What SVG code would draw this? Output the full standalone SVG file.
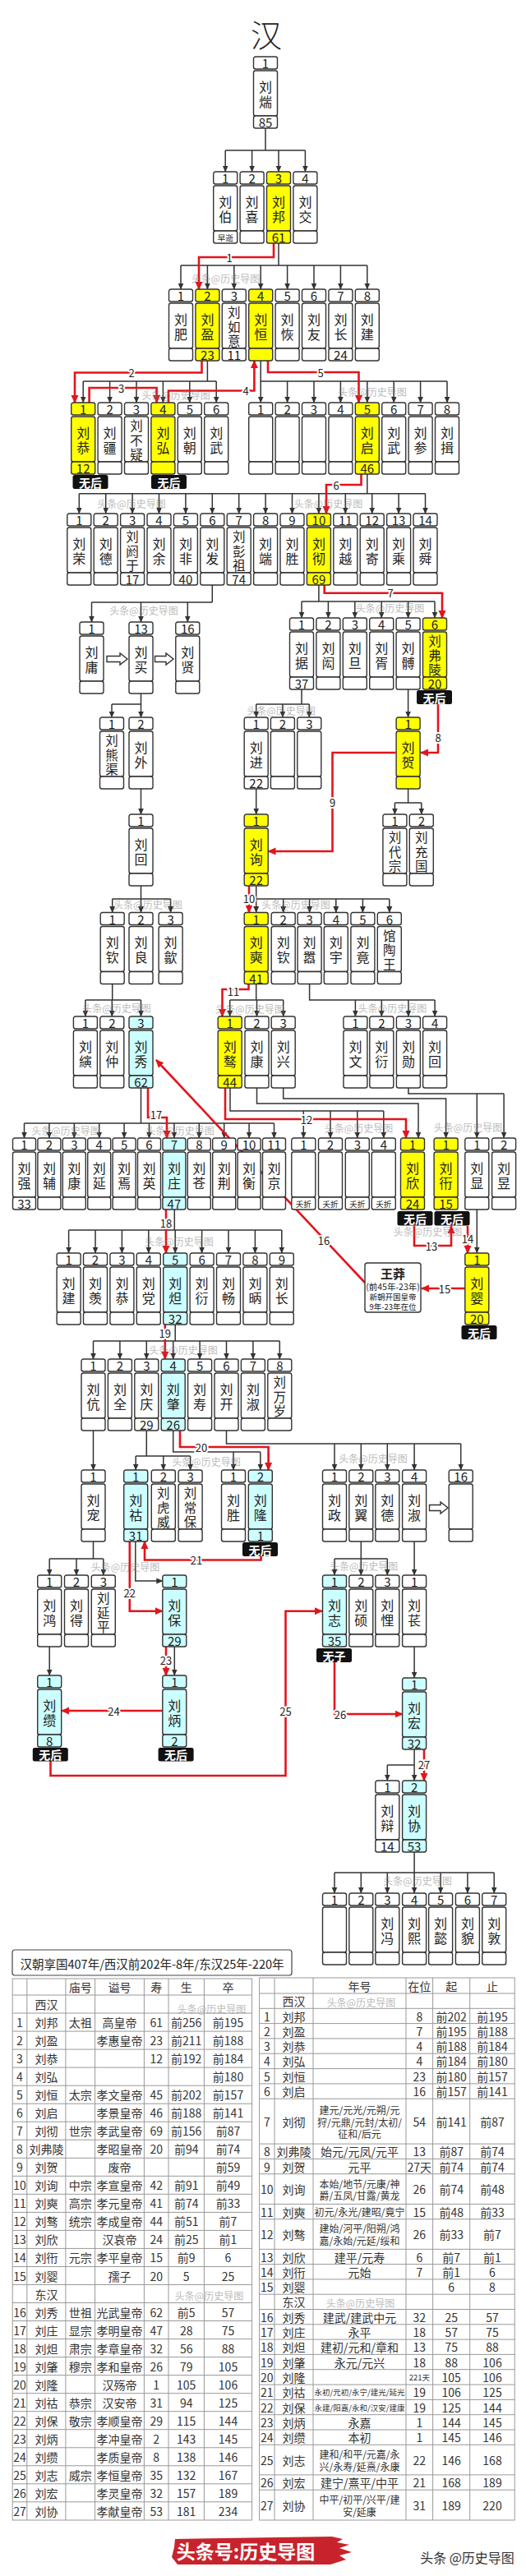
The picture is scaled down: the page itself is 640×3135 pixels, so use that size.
<svg xmlns="http://www.w3.org/2000/svg" width="640" height="3135" viewBox="0 0 640 3135">
<defs>
<marker id="ak" viewBox="0 0 8 8" refX="7.5" refY="4" markerWidth="8" markerHeight="8" markerUnits="userSpaceOnUse" orient="auto"><path d="M0,0.5L8,4L0,7.5z" fill="#333"/></marker>
<marker id="ar" viewBox="0 0 10 10" refX="9" refY="5" markerWidth="10" markerHeight="10" markerUnits="userSpaceOnUse" orient="auto"><path d="M0,0.5L10,5L0,9.5z" fill="#e3141c"/></marker>
<g id="bx"><rect x="-14.5" y="0" width="29" height="15" rx="2.5" stroke="#333" stroke-width="1.4"/><rect x="-14.5" y="17" width="29" height="55" rx="2.5" stroke="#333" stroke-width="1.4"/><rect x="-14.5" y="72" width="29" height="15" rx="2.5" stroke="#333" stroke-width="1.4"/></g>
<g id="bn"><rect x="-14" y="0" width="28" height="15" rx="2.5" stroke="#333" stroke-width="1.4"/><rect x="-14" y="17" width="28" height="55" rx="2.5" stroke="#333" stroke-width="1.4"/><rect x="-14" y="72" width="28" height="15" rx="2.5" stroke="#333" stroke-width="1.4"/></g>
</defs>
<style>
text{font-family:"Noto Sans CJK SC","Noto Sans",sans-serif;fill:#222}
.t{font-size:15px;text-anchor:middle;dominant-baseline:central}
.m{font-size:16px;text-anchor:middle;dominant-baseline:central}
.m3{font-size:15.5px;text-anchor:middle;dominant-baseline:central}
.s{font-size:9.5px;text-anchor:middle;dominant-baseline:central}
.w{fill:#fff}.y{fill:#ffff00}.c{fill:#ccffff}
.k{fill:none;stroke:#333;stroke-width:1.5}
.ka{fill:none;stroke:#333;stroke-width:1.5;marker-end:url(#ak)}
.r{fill:none;stroke:#e3141c;stroke-width:2.6;marker-end:url(#ar)}
.lb{font-size:13px;text-anchor:middle;dominant-baseline:central;stroke:#fff;stroke-width:4px;paint-order:stroke;stroke-linejoin:round}
.nh rect{fill:#111}
.nh text{fill:#fff;font-size:14px;font-weight:bold;text-anchor:middle;dominant-baseline:central}
.wm{font-size:12px;fill:#777;opacity:.5;text-anchor:middle;dominant-baseline:central}
.tb{font-size:14px;fill:#333;text-anchor:middle;dominant-baseline:central}
.tn{font-size:12px;fill:#333;text-anchor:middle;dominant-baseline:central}
.tt{font-size:9.5px;fill:#333;text-anchor:middle;dominant-baseline:central}
.tl{stroke:#999;stroke-width:1;fill:none}
</style>
<rect width="640" height="3135" fill="#fff"/>
<text x="324" y="40" style="font-size:38px;font-weight:300;text-anchor:middle;dominant-baseline:central;fill:#222">汉</text>

<g id="connectors">
<path class="k" d="M323,156V183M274.2,183H371.4"/>
<path class="ka" d="M274.2,183V209"/><path class="ka" d="M306.6,183V209"/><path class="ka" d="M339,183V209"/><path class="ka" d="M371.4,183V209"/>
<path class="k" d="M339,296V323M220,323H446.8"/>
<path class="ka" d="M220,323V352"/><path class="ka" d="M252.4,323V352"/><path class="ka" d="M284.8,323V352"/><path class="ka" d="M317.2,323V352"/><path class="ka" d="M349.6,323V352"/><path class="ka" d="M382,323V352"/><path class="ka" d="M414.4,323V352"/><path class="ka" d="M446.8,323V352"/>
<path class="k" d="M252.4,439V464M101.2,464H263.2"/>
<path class="ka" d="M101.2,464V490"/><path class="ka" d="M133.6,464V490"/><path class="ka" d="M166,464V490"/><path class="ka" d="M198.4,464V490"/><path class="ka" d="M230.8,464V490"/><path class="ka" d="M263.2,464V490"/>
<path class="k" d="M317.2,439V464H544"/>
<path class="ka" d="M317.2,464V490"/><path class="ka" d="M349.6,464V490"/><path class="ka" d="M382,464V490"/><path class="ka" d="M414.4,464V490"/><path class="ka" d="M446.8,464V490"/><path class="ka" d="M479.2,464V490"/><path class="ka" d="M511.6,464V490"/><path class="ka" d="M544,464V490"/>
<path class="k" d="M446.8,577V600.7M96.3,600.7H517.5"/>
<path class="ka" d="M96.3,600.7V625"/><path class="ka" d="M128.7,600.7V625"/><path class="ka" d="M161.1,600.7V625"/><path class="ka" d="M193.5,600.7V625"/><path class="ka" d="M225.9,600.7V625"/><path class="ka" d="M258.3,600.7V625"/><path class="ka" d="M290.7,600.7V625"/><path class="ka" d="M323.1,600.7V625"/><path class="ka" d="M355.5,600.7V625"/><path class="ka" d="M387.9,600.7V625"/><path class="ka" d="M420.3,600.7V625"/><path class="ka" d="M452.7,600.7V625"/><path class="ka" d="M485.1,600.7V625"/><path class="ka" d="M517.5,600.7V625"/>
<path class="k" d="M258.3,712V733M111.5,733H258.3"/>
<path class="ka" d="M111.5,733V757"/><path class="ka" d="M171.5,733V757"/><path class="ka" d="M228.3,733V757"/>
<path class="k" d="M387.9,712V732M367,732H529"/>
<path class="ka" d="M367,732V752"/><path class="ka" d="M399.4,732V752"/><path class="ka" d="M431.8,732V752"/><path class="ka" d="M464.2,732V752"/><path class="ka" d="M496.6,732V752"/><path class="ka" d="M529,732V752"/>
<path class="k" d="M171.5,844V857M136,857H171.5"/>
<path class="ka" d="M136,857V873"/><path class="ka" d="M171.5,857V873"/>
<path class="ka" d="M171.5,960V991"/>
<path class="k" d="M367,839V857M311.7,857H376.3"/>
<path class="ka" d="M311.7,857V873"/><path class="ka" d="M343.9,857V873"/><path class="ka" d="M376.3,857V873"/>
<path class="ka" d="M311.7,960V991"/>
<path class="ka" d="M496.6,839V873"/>
<path class="k" d="M496.6,960V977M480.4,977H512.8"/>
<path class="ka" d="M480.4,977V991"/><path class="ka" d="M512.8,977V991"/>
<path class="k" d="M171.5,1078V1094M136.7,1094H207.6"/>
<path class="ka" d="M136.7,1094V1110.5"/><path class="ka" d="M171.5,1094V1110.5"/><path class="ka" d="M207.6,1094V1110.5"/>
<path class="k" d="M311.7,1078V1094H473.8"/>
<path class="ka" d="M311.7,1094V1110.5"/><path class="ka" d="M344.7,1094V1110.5"/><path class="ka" d="M376.6,1094V1110.5"/><path class="ka" d="M408.8,1094V1110.5"/><path class="ka" d="M441.4,1094V1110.5"/><path class="ka" d="M473.8,1094V1110.5"/>
<path class="k" d="M136.7,1197.5V1217M103.9,1217H171.5"/>
<path class="ka" d="M103.9,1217V1237"/><path class="ka" d="M136.3,1217V1237"/><path class="ka" d="M171.5,1217V1237"/>
<path class="k" d="M311.7,1197.5V1217M279.7,1217H344.7"/>
<path class="ka" d="M279.7,1217V1237"/><path class="ka" d="M312.5,1217V1237"/><path class="ka" d="M344.7,1217V1237"/>
<path class="k" d="M376.6,1197.5V1217H529.1"/>
<path class="ka" d="M432.4,1217V1237"/><path class="ka" d="M464.3,1217V1237"/><path class="ka" d="M496.9,1217V1237"/><path class="ka" d="M529.1,1217V1237"/>
<path class="k" d="M171.5,1324V1367M29.5,1367H333.5"/>
<path class="ka" d="M29.5,1367V1385"/><path class="ka" d="M59.9,1367V1385"/><path class="ka" d="M90.3,1367V1385"/><path class="ka" d="M120.7,1367V1385"/><path class="ka" d="M151.1,1367V1385"/><path class="ka" d="M181.5,1367V1385"/><path class="ka" d="M211.9,1367V1385"/><path class="ka" d="M242.3,1367V1385"/><path class="ka" d="M272.7,1367V1385"/><path class="ka" d="M303.1,1367V1385"/><path class="ka" d="M333.5,1367V1385"/>
<path class="k" d="M280,1324V1352H466.8"/>
<path class="ka" d="M369.3,1352V1385"/><path class="ka" d="M402,1352V1385"/><path class="ka" d="M434.8,1352V1385"/><path class="ka" d="M466.8,1352V1385"/>
<path class="ka" d="M312.5,1324V1343H509V1385"/>
<path class="ka" d="M344.7,1324V1337H542.6V1385"/>
<path class="k" d="M496.9,1324V1331H613.1"/>
<path class="ka" d="M580.3,1331V1385"/><path class="ka" d="M613.1,1331V1385"/>
<path class="k" d="M212.3,1472V1497M83.6,1497H342.8"/>
<path class="ka" d="M83.6,1497V1525"/><path class="ka" d="M116,1497V1525"/><path class="ka" d="M148.4,1497V1525"/><path class="ka" d="M180.8,1497V1525"/><path class="ka" d="M213.2,1497V1525"/><path class="ka" d="M245.6,1497V1525"/><path class="ka" d="M278,1497V1525"/><path class="ka" d="M310.4,1497V1525"/><path class="ka" d="M342.8,1497V1525"/>
<path class="ka" d="M580.3,1472V1525"/>
<path class="k" d="M213.2,1612V1632M113.5,1632H340.3"/>
<path class="ka" d="M113.5,1632V1654"/><path class="ka" d="M145.9,1632V1654"/><path class="ka" d="M178.3,1632V1654"/><path class="ka" d="M210.7,1632V1654"/><path class="ka" d="M243.1,1632V1654"/><path class="ka" d="M275.5,1632V1654"/><path class="ka" d="M307.9,1632V1654"/><path class="ka" d="M340.3,1632V1654"/>
<path class="ka" d="M113.5,1741V1789"/>
<path class="k" d="M178.3,1741V1772M165.2,1772H231.6"/>
<path class="ka" d="M165.2,1772V1789"/><path class="ka" d="M198.8,1772V1789"/><path class="ka" d="M231.6,1772V1789"/>
<path class="k" d="M210.7,1741V1767H316.8"/>
<path class="ka" d="M284,1767V1789"/><path class="ka" d="M316.8,1767V1789"/>
<path class="k" d="M275.5,1741V1757H560.7"/>
<path class="ka" d="M407,1757V1789"/><path class="ka" d="M439.3,1757V1789"/><path class="ka" d="M471.3,1757V1789"/><path class="ka" d="M504.1,1757V1789"/><path class="ka" d="M560.7,1757V1789"/>
<path class="ka" d="M164.8,1876V1924H197.8"/>
<path class="k" d="M113.5,1876V1897M60.2,1897H125.8"/>
<path class="ka" d="M60.2,1897V1917"/><path class="ka" d="M93,1897V1917"/><path class="ka" d="M125.8,1897V1917"/>
<path class="ka" d="M60.2,2004V2039"/>
<path class="ka" d="M212.3,2004V2039"/>
<path class="k" d="M439.3,1876V1897M407,1897H471.3"/>
<path class="ka" d="M407,1897V1917"/><path class="ka" d="M439.3,1897V1917"/><path class="ka" d="M471.3,1897V1917"/>
<path class="ka" d="M504.1,1876V1917"/>
<path class="ka" d="M504.1,2004V2042"/>
<path class="k" d="M504.1,2129V2148M471.3,2148H504.1"/>
<path class="ka" d="M471.3,2148V2167"/><path class="ka" d="M504.1,2148V2167"/>
<path class="k" d="M504.1,2254V2279M407,2279H601.2"/>
<path class="ka" d="M407,2279V2304"/><path class="ka" d="M439.3,2279V2304"/><path class="ka" d="M471.3,2279V2304"/><path class="ka" d="M504.1,2279V2304"/><path class="ka" d="M536.1,2279V2304"/><path class="ka" d="M568.9,2279V2304"/><path class="ka" d="M601.2,2279V2304"/>
<path d="M130,798.5H146V795L155,802L146,809V805.5H130Z" fill="#fff" stroke="#333" stroke-width="1.4"/>
<path d="M188.5,798.5H202V795L211,802L202,809V805.5H188.5Z" fill="#fff" stroke="#333" stroke-width="1.4"/>
<path d="M522.5,1831.5H536V1828L545,1835L536,1842V1838.5H522.5Z" fill="#fff" stroke="#333" stroke-width="1.4"/>
<g id="red">
<path class="r" d="M333,296V313H242V352"/>
<path class="r" d="M245.5,439V453.5H91V490"/>
<path class="r" d="M108.6,490V472H190.6V490"/>
<path class="r" d="M205,490V475.5H309.4V439"/>
<path class="r" d="M326,439V453H436.5V490"/>
<path class="r" d="M439.5,577V590H397V625"/>
<path class="r" d="M394.7,712V721.7H538V752"/>
<path class="r" d="M533,857V916H512"/>
<path class="r" d="M481.5,916H404.5V1036H326.5"/>
<path class="r" d="M303,1078V1110.5"/>
<path class="r" d="M302.5,1197.5V1204H270.5V1237"/>
<path class="r" d="M274,1324V1362H494V1385"/>
<path class="r" d="M504,1492V1516H549V1492"/>
<path class="r" d="M569,1492V1525"/>
<path class="r" d="M565.5,1568H513"/>
<path class="r" d="M444,1561L190,1290"/>
<path class="r" d="M180,1324V1360H203V1385"/>
<path class="r" d="M202,1472V1525"/>
<path class="r" d="M200.8,1612V1654"/>
<path class="r" d="M219,1741V1761H326.6V1789"/>
<path class="r" d="M317.6,1894V1898.5H176V1876"/>
<path class="r" d="M157.8,1876V1960.7H197.8"/>
<path class="r" d="M202,2004V2039"/>
<path class="r" d="M197.8,2082H75.2"/>
<path class="r" d="M61.5,2143V2161H347.5V1960.7H392"/>
<path class="r" d="M407,2023V2086H489.6"/>
<path class="r" d="M516,2129V2167"/>
</g>
<g id="red-labels">
<text class="lb" x="279" y="313">1</text>
<text class="lb" x="160" y="453.5">2</text>
<text class="lb" x="147.5" y="472">3</text>
<text class="lb" x="299" y="475.5">4</text>
<text class="lb" x="390" y="453">5</text>
<text class="lb" x="409" y="590">6</text>
<text class="lb" x="475" y="721.7">7</text>
<text class="lb" x="533" y="897">8</text>
<text class="lb" x="404.5" y="976">9</text>
<text class="lb" x="303" y="1093">10</text>
<text class="lb" x="284" y="1206">11</text>
<text class="lb" x="373" y="1362">12</text>
<text class="lb" x="525" y="1516">13</text>
<text class="lb" x="569" y="1507">14</text>
<text class="lb" x="541" y="1568">15</text>
<text class="lb" x="394" y="1509">16</text>
<text class="lb" x="190" y="1356">17</text>
<text class="lb" x="202" y="1488">18</text>
<text class="lb" x="200.8" y="1622">19</text>
<text class="lb" x="245" y="1761">20</text>
<text class="lb" x="239" y="1898.5">21</text>
<text class="lb" x="157.8" y="1938">22</text>
<text class="lb" x="202" y="2020">23</text>
<text class="lb" x="138.5" y="2082">24</text>
<text class="lb" x="347.5" y="2082">25</text>
<text class="lb" x="414" y="2086">26</text>
<text class="lb" x="516" y="2147">27</text>
</g>
</g>

<g id="nodes">
<g id="r1-1" transform="translate(323,69)"><use href="#bx" class="w"/><text class="t" y="7.5">1</text><text class="m" y="35.5">刘<tspan x="0" dy="18">煓</tspan></text><text class="t" y="79.5">85</text></g>
<g id="r2-1" transform="translate(274.2,209)"><use href="#bx" class="w"/><text class="t" y="7.5">1</text><text class="m" y="35.5">刘<tspan x="0" dy="18">伯</tspan></text><text class="s" y="79.5">早逝</text></g>
<g id="r2-2" transform="translate(306.6,209)"><use href="#bx" class="w"/><text class="t" y="7.5">2</text><text class="m" y="35.5">刘<tspan x="0" dy="18">喜</tspan></text></g>
<g id="r2-3" transform="translate(339,209)"><use href="#bx" class="y"/><text class="t" y="7.5">3</text><text class="m" y="35.5">刘<tspan x="0" dy="18">邦</tspan></text><text class="t" y="79.5">61</text></g>
<g id="r2-4" transform="translate(371.4,209)"><use href="#bx" class="w"/><text class="t" y="7.5">4</text><text class="m" y="35.5">刘<tspan x="0" dy="18">交</tspan></text></g>

<g id="r3-1" transform="translate(220,352)"><use href="#bx" class="w"/><text class="t" y="7.5">1</text><text class="m" y="35.5">刘<tspan x="0" dy="18">肥</tspan></text></g>
<g id="r3-2" transform="translate(252.4,352)"><use href="#bx" class="y"/><text class="t" y="7.5">2</text><text class="m" y="35.5">刘<tspan x="0" dy="18">盈</tspan></text><text class="t" y="79.5">23</text></g>
<g id="r3-3" transform="translate(284.8,352)"><use href="#bx" class="w"/><text class="t" y="7.5">3</text><text class="m3" y="27">刘<tspan x="0" dy="17.5">如</tspan><tspan x="0" dy="17.5">意</tspan></text><text class="t" y="79.5">11</text></g>
<g id="r3-4" transform="translate(317.2,352)"><use href="#bx" class="y"/><text class="t" y="7.5">4</text><text class="m" y="35.5">刘<tspan x="0" dy="18">恒</tspan></text></g>
<g id="r3-5" transform="translate(349.6,352)"><use href="#bx" class="w"/><text class="t" y="7.5">5</text><text class="m" y="35.5">刘<tspan x="0" dy="18">恢</tspan></text></g>
<g id="r3-6" transform="translate(382,352)"><use href="#bx" class="w"/><text class="t" y="7.5">6</text><text class="m" y="35.5">刘<tspan x="0" dy="18">友</tspan></text></g>
<g id="r3-7" transform="translate(414.4,352)"><use href="#bx" class="w"/><text class="t" y="7.5">7</text><text class="m" y="35.5">刘<tspan x="0" dy="18">长</tspan></text><text class="t" y="79.5">24</text></g>
<g id="r3-8" transform="translate(446.8,352)"><use href="#bx" class="w"/><text class="t" y="7.5">8</text><text class="m" y="35.5">刘<tspan x="0" dy="18">建</tspan></text></g>

<g id="r4a-1" transform="translate(101.2,490)"><use href="#bx" class="y"/><text class="t" y="7.5">1</text><text class="m" y="35.5">刘<tspan x="0" dy="18">恭</tspan></text><text class="t" y="79.5">12</text></g>
<g id="r4a-2" transform="translate(133.6,490)"><use href="#bx" class="w"/><text class="t" y="7.5">2</text><text class="m" y="35.5">刘<tspan x="0" dy="18">疆</tspan></text></g>
<g id="r4a-3" transform="translate(166,490)"><use href="#bx" class="w"/><text class="t" y="7.5">3</text><text class="m3" y="27">刘<tspan x="0" dy="17.5">不</tspan><tspan x="0" dy="17.5">疑</tspan></text></g>
<g id="r4a-4" transform="translate(198.4,490)"><use href="#bx" class="y"/><text class="t" y="7.5">4</text><text class="m" y="35.5">刘<tspan x="0" dy="18">弘</tspan></text></g>
<g id="r4a-5" transform="translate(230.8,490)"><use href="#bx" class="w"/><text class="t" y="7.5">5</text><text class="m" y="35.5">刘<tspan x="0" dy="18">朝</tspan></text></g>
<g id="r4a-6" transform="translate(263.2,490)"><use href="#bx" class="w"/><text class="t" y="7.5">6</text><text class="m" y="35.5">刘<tspan x="0" dy="18">武</tspan></text></g>
<g id="r4b-1" transform="translate(317.2,490)"><use href="#bx" class="w"/><text class="t" y="7.5">1</text></g>
<g id="r4b-2" transform="translate(349.6,490)"><use href="#bx" class="w"/><text class="t" y="7.5">2</text></g>
<g id="r4b-3" transform="translate(382,490)"><use href="#bx" class="w"/><text class="t" y="7.5">3</text></g>
<g id="r4b-4" transform="translate(414.4,490)"><use href="#bx" class="w"/><text class="t" y="7.5">4</text></g>
<g id="r4b-5" transform="translate(446.8,490)"><use href="#bx" class="y"/><text class="t" y="7.5">5</text><text class="m" y="35.5">刘<tspan x="0" dy="18">启</tspan></text><text class="t" y="79.5">46</text></g>
<g id="r4b-6" transform="translate(479.2,490)"><use href="#bx" class="w"/><text class="t" y="7.5">6</text><text class="m" y="35.5">刘<tspan x="0" dy="18">武</tspan></text></g>
<g id="r4b-7" transform="translate(511.6,490)"><use href="#bx" class="w"/><text class="t" y="7.5">7</text><text class="m" y="35.5">刘<tspan x="0" dy="18">参</tspan></text></g>
<g id="r4b-8" transform="translate(544,490)"><use href="#bx" class="w"/><text class="t" y="7.5">8</text><text class="m" y="35.5">刘<tspan x="0" dy="18">揖</tspan></text></g>

<g id="r5-1" transform="translate(96.3,625)"><use href="#bx" class="w"/><text class="t" y="7.5">1</text><text class="m" y="35.5">刘<tspan x="0" dy="18">荣</tspan></text></g>
<g id="r5-2" transform="translate(128.7,625)"><use href="#bx" class="w"/><text class="t" y="7.5">2</text><text class="m" y="35.5">刘<tspan x="0" dy="18">德</tspan></text></g>
<g id="r5-3" transform="translate(161.1,625)"><use href="#bx" class="w"/><text class="t" y="7.5">3</text><text class="m3" y="27">刘<tspan x="0" dy="17.5">阏</tspan><tspan x="0" dy="17.5">于</tspan></text><text class="t" y="79.5">17</text></g>
<g id="r5-4" transform="translate(193.5,625)"><use href="#bx" class="w"/><text class="t" y="7.5">4</text><text class="m" y="35.5">刘<tspan x="0" dy="18">余</tspan></text></g>
<g id="r5-5" transform="translate(225.9,625)"><use href="#bx" class="w"/><text class="t" y="7.5">5</text><text class="m" y="35.5">刘<tspan x="0" dy="18">非</tspan></text><text class="t" y="79.5">40</text></g>
<g id="r5-6" transform="translate(258.3,625)"><use href="#bx" class="w"/><text class="t" y="7.5">6</text><text class="m" y="35.5">刘<tspan x="0" dy="18">发</tspan></text></g>
<g id="r5-7" transform="translate(290.7,625)"><use href="#bx" class="w"/><text class="t" y="7.5">7</text><text class="m3" y="27">刘<tspan x="0" dy="17.5">彭</tspan><tspan x="0" dy="17.5">祖</tspan></text><text class="t" y="79.5">74</text></g>
<g id="r5-8" transform="translate(323.1,625)"><use href="#bx" class="w"/><text class="t" y="7.5">8</text><text class="m" y="35.5">刘<tspan x="0" dy="18">端</tspan></text></g>
<g id="r5-9" transform="translate(355.5,625)"><use href="#bx" class="w"/><text class="t" y="7.5">9</text><text class="m" y="35.5">刘<tspan x="0" dy="18">胜</tspan></text></g>
<g id="r5-10" transform="translate(387.9,625)"><use href="#bx" class="y"/><text class="t" y="7.5">10</text><text class="m" y="35.5">刘<tspan x="0" dy="18">彻</tspan></text><text class="t" y="79.5">69</text></g>
<g id="r5-11" transform="translate(420.3,625)"><use href="#bx" class="w"/><text class="t" y="7.5">11</text><text class="m" y="35.5">刘<tspan x="0" dy="18">越</tspan></text></g>
<g id="r5-12" transform="translate(452.7,625)"><use href="#bx" class="w"/><text class="t" y="7.5">12</text><text class="m" y="35.5">刘<tspan x="0" dy="18">寄</tspan></text></g>
<g id="r5-13" transform="translate(485.1,625)"><use href="#bx" class="w"/><text class="t" y="7.5">13</text><text class="m" y="35.5">刘<tspan x="0" dy="18">乘</tspan></text></g>
<g id="r5-14" transform="translate(517.5,625)"><use href="#bx" class="w"/><text class="t" y="7.5">14</text><text class="m" y="35.5">刘<tspan x="0" dy="18">舜</tspan></text></g>

<g id="r6a-1" transform="translate(111.5,757)"><use href="#bx" class="w"/><text class="t" y="7.5">1</text><text class="m" y="35.5">刘<tspan x="0" dy="18">庸</tspan></text></g>
<g id="r6a-13" transform="translate(171.5,757)"><use href="#bx" class="w"/><text class="t" y="7.5">13</text><text class="m" y="35.5">刘<tspan x="0" dy="18">买</tspan></text></g>
<g id="r6a-16" transform="translate(228.3,757)"><use href="#bx" class="w"/><text class="t" y="7.5">16</text><text class="m" y="35.5">刘<tspan x="0" dy="18">贤</tspan></text></g>
<g id="r6b-1" transform="translate(367,752)"><use href="#bx" class="w"/><text class="t" y="7.5">1</text><text class="m" y="35.5">刘<tspan x="0" dy="18">据</tspan></text><text class="t" y="79.5">37</text></g>
<g id="r6b-2" transform="translate(399.4,752)"><use href="#bx" class="w"/><text class="t" y="7.5">2</text><text class="m" y="35.5">刘<tspan x="0" dy="18">闳</tspan></text></g>
<g id="r6b-3" transform="translate(431.8,752)"><use href="#bx" class="w"/><text class="t" y="7.5">3</text><text class="m" y="35.5">刘<tspan x="0" dy="18">旦</tspan></text></g>
<g id="r6b-4" transform="translate(464.2,752)"><use href="#bx" class="w"/><text class="t" y="7.5">4</text><text class="m" y="35.5">刘<tspan x="0" dy="18">胥</tspan></text></g>
<g id="r6b-5" transform="translate(496.6,752)"><use href="#bx" class="w"/><text class="t" y="7.5">5</text><text class="m" y="35.5">刘<tspan x="0" dy="18">髆</tspan></text></g>
<g id="r6b-6" transform="translate(529,752)"><use href="#bx" class="y"/><text class="t" y="7.5">6</text><text class="m3" y="27">刘<tspan x="0" dy="17.5">弗</tspan><tspan x="0" dy="17.5">陵</tspan></text><text class="t" y="79.5">20</text></g>

<g id="r7a-1" transform="translate(136,873)"><use href="#bx" class="w"/><text class="t" y="7.5">1</text><text class="m3" y="27">刘<tspan x="0" dy="17.5">熊</tspan><tspan x="0" dy="17.5">渠</tspan></text></g>
<g id="r7a-2" transform="translate(171.5,873)"><use href="#bx" class="w"/><text class="t" y="7.5">2</text><text class="m" y="35.5">刘<tspan x="0" dy="18">外</tspan></text></g>
<g id="r7b-1" transform="translate(311.7,873)"><use href="#bx" class="w"/><text class="t" y="7.5">1</text><text class="m" y="35.5">刘<tspan x="0" dy="18">进</tspan></text><text class="t" y="79.5">22</text></g>
<g id="r7b-2" transform="translate(343.9,873)"><use href="#bx" class="w"/><text class="t" y="7.5">2</text></g>
<g id="r7b-3" transform="translate(376.3,873)"><use href="#bx" class="w"/><text class="t" y="7.5">3</text></g>
<g id="r7c-1" transform="translate(496.6,873)"><use href="#bx" class="y"/><text class="t" y="7.5">1</text><text class="m" y="35.5">刘<tspan x="0" dy="18">贺</tspan></text></g>

<g id="r8a-1" transform="translate(171.5,991)"><use href="#bx" class="w"/><text class="t" y="7.5">1</text><text class="m" y="35.5">刘<tspan x="0" dy="18">回</tspan></text></g>
<g id="r8b-1" transform="translate(311.7,991)"><use href="#bx" class="y"/><text class="t" y="7.5">1</text><text class="m" y="35.5">刘<tspan x="0" dy="18">询</tspan></text><text class="t" y="79.5">22</text></g>
<g id="r8c-1" transform="translate(480.4,991)"><use href="#bx" class="w"/><text class="t" y="7.5">1</text><text class="m3" y="27">刘<tspan x="0" dy="17.5">代</tspan><tspan x="0" dy="17.5">宗</tspan></text></g>
<g id="r8c-2" transform="translate(512.8,991)"><use href="#bx" class="w"/><text class="t" y="7.5">2</text><text class="m3" y="27">刘<tspan x="0" dy="17.5">充</tspan><tspan x="0" dy="17.5">国</tspan></text></g>

<g id="r9a-1" transform="translate(136.7,1110.5)"><use href="#bx" class="w"/><text class="t" y="7.5">1</text><text class="m" y="35.5">刘<tspan x="0" dy="18">钦</tspan></text></g>
<g id="r9a-2" transform="translate(171.5,1110.5)"><use href="#bx" class="w"/><text class="t" y="7.5">2</text><text class="m" y="35.5">刘<tspan x="0" dy="18">良</tspan></text></g>
<g id="r9a-3" transform="translate(207.6,1110.5)"><use href="#bx" class="w"/><text class="t" y="7.5">3</text><text class="m" y="35.5">刘<tspan x="0" dy="18">歙</tspan></text></g>
<g id="r9b-1" transform="translate(311.7,1110.5)"><use href="#bx" class="y"/><text class="t" y="7.5">1</text><text class="m" y="35.5">刘<tspan x="0" dy="18">奭</tspan></text><text class="t" y="79.5">41</text></g>
<g id="r9b-2" transform="translate(344.7,1110.5)"><use href="#bx" class="w"/><text class="t" y="7.5">2</text><text class="m" y="35.5">刘<tspan x="0" dy="18">钦</tspan></text></g>
<g id="r9b-3" transform="translate(376.6,1110.5)"><use href="#bx" class="w"/><text class="t" y="7.5">3</text><text class="m" y="35.5">刘<tspan x="0" dy="18">嚣</tspan></text></g>
<g id="r9b-4" transform="translate(408.8,1110.5)"><use href="#bx" class="w"/><text class="t" y="7.5">4</text><text class="m" y="35.5">刘<tspan x="0" dy="18">宇</tspan></text></g>
<g id="r9b-5" transform="translate(441.4,1110.5)"><use href="#bx" class="w"/><text class="t" y="7.5">5</text><text class="m" y="35.5">刘<tspan x="0" dy="18">竟</tspan></text></g>
<g id="r9b-6" transform="translate(473.8,1110.5)"><use href="#bx" class="w"/><text class="t" y="7.5">6</text><text class="m3" y="27">馆<tspan x="0" dy="17.5">陶</tspan><tspan x="0" dy="17.5">王</tspan></text></g>

<g id="r10a-1" transform="translate(103.9,1237)"><use href="#bx" class="w"/><text class="t" y="7.5">1</text><text class="m" y="35.5">刘<tspan x="0" dy="18">縯</tspan></text></g>
<g id="r10a-2" transform="translate(136.3,1237)"><use href="#bx" class="w"/><text class="t" y="7.5">2</text><text class="m" y="35.5">刘<tspan x="0" dy="18">仲</tspan></text></g>
<g id="r10a-3" transform="translate(171.5,1237)"><use href="#bx" class="c"/><text class="t" y="7.5">3</text><text class="m" y="35.5">刘<tspan x="0" dy="18">秀</tspan></text><text class="t" y="79.5">62</text></g>
<g id="r10b-1" transform="translate(279.7,1237)"><use href="#bx" class="y"/><text class="t" y="7.5">1</text><text class="m" y="35.5">刘<tspan x="0" dy="18">骜</tspan></text><text class="t" y="79.5">44</text></g>
<g id="r10b-2" transform="translate(312.5,1237)"><use href="#bx" class="w"/><text class="t" y="7.5">2</text><text class="m" y="35.5">刘<tspan x="0" dy="18">康</tspan></text></g>
<g id="r10b-3" transform="translate(344.7,1237)"><use href="#bx" class="w"/><text class="t" y="7.5">3</text><text class="m" y="35.5">刘<tspan x="0" dy="18">兴</tspan></text></g>
<g id="r10c-1" transform="translate(432.4,1237)"><use href="#bx" class="w"/><text class="t" y="7.5">1</text><text class="m" y="35.5">刘<tspan x="0" dy="18">文</tspan></text></g>
<g id="r10c-2" transform="translate(464.3,1237)"><use href="#bx" class="w"/><text class="t" y="7.5">2</text><text class="m" y="35.5">刘<tspan x="0" dy="18">衍</tspan></text></g>
<g id="r10c-3" transform="translate(496.9,1237)"><use href="#bx" class="w"/><text class="t" y="7.5">3</text><text class="m" y="35.5">刘<tspan x="0" dy="18">勋</tspan></text></g>
<g id="r10c-4" transform="translate(529.1,1237)"><use href="#bx" class="w"/><text class="t" y="7.5">4</text><text class="m" y="35.5">刘<tspan x="0" dy="18">回</tspan></text></g>

<g id="r11a-1" transform="translate(29.5,1385)"><use href="#bn" class="w"/><text class="t" y="7.5">1</text><text class="m" y="35.5">刘<tspan x="0" dy="18">强</tspan></text><text class="t" y="79.5">33</text></g>
<g id="r11a-2" transform="translate(59.9,1385)"><use href="#bn" class="w"/><text class="t" y="7.5">2</text><text class="m" y="35.5">刘<tspan x="0" dy="18">辅</tspan></text></g>
<g id="r11a-3" transform="translate(90.3,1385)"><use href="#bn" class="w"/><text class="t" y="7.5">3</text><text class="m" y="35.5">刘<tspan x="0" dy="18">康</tspan></text></g>
<g id="r11a-4" transform="translate(120.7,1385)"><use href="#bn" class="w"/><text class="t" y="7.5">4</text><text class="m" y="35.5">刘<tspan x="0" dy="18">延</tspan></text></g>
<g id="r11a-5" transform="translate(151.1,1385)"><use href="#bn" class="w"/><text class="t" y="7.5">5</text><text class="m" y="35.5">刘<tspan x="0" dy="18">焉</tspan></text></g>
<g id="r11a-6" transform="translate(181.5,1385)"><use href="#bn" class="w"/><text class="t" y="7.5">6</text><text class="m" y="35.5">刘<tspan x="0" dy="18">英</tspan></text></g>
<g id="r11a-7" transform="translate(211.9,1385)"><use href="#bn" class="c"/><text class="t" y="7.5">7</text><text class="m" y="35.5">刘<tspan x="0" dy="18">庄</tspan></text><text class="t" y="79.5">47</text></g>
<g id="r11a-8" transform="translate(242.3,1385)"><use href="#bn" class="w"/><text class="t" y="7.5">8</text><text class="m" y="35.5">刘<tspan x="0" dy="18">苍</tspan></text></g>
<g id="r11a-9" transform="translate(272.7,1385)"><use href="#bn" class="w"/><text class="t" y="7.5">9</text><text class="m" y="35.5">刘<tspan x="0" dy="18">荆</tspan></text></g>
<g id="r11a-10" transform="translate(303.1,1385)"><use href="#bn" class="w"/><text class="t" y="7.5">10</text><text class="m" y="35.5">刘<tspan x="0" dy="18">衡</tspan></text></g>
<g id="r11a-11" transform="translate(333.5,1385)"><use href="#bn" class="w"/><text class="t" y="7.5">11</text><text class="m" y="35.5">刘<tspan x="0" dy="18">京</tspan></text></g>
<g id="r11b-1" transform="translate(369.3,1385)"><use href="#bx" class="w"/><text class="t" y="7.5">1</text><text class="s" y="79.5">夭折</text></g>
<g id="r11b-2" transform="translate(402,1385)"><use href="#bx" class="w"/><text class="t" y="7.5">2</text><text class="s" y="79.5">夭折</text></g>
<g id="r11b-3" transform="translate(434.8,1385)"><use href="#bx" class="w"/><text class="t" y="7.5">3</text><text class="s" y="79.5">夭折</text></g>
<g id="r11b-4" transform="translate(466.8,1385)"><use href="#bx" class="w"/><text class="t" y="7.5">4</text><text class="s" y="79.5">夭折</text></g>
<g id="r11c-1" transform="translate(502,1385)"><use href="#bx" class="y"/><text class="t" y="7.5">1</text><text class="m" y="35.5">刘<tspan x="0" dy="18">欣</tspan></text><text class="t" y="79.5">24</text></g>
<g id="r11d-1" transform="translate(542.6,1385)"><use href="#bx" class="y"/><text class="t" y="7.5">1</text><text class="m" y="35.5">刘<tspan x="0" dy="18">衎</tspan></text><text class="t" y="79.5">15</text></g>
<g id="r11e-1" transform="translate(580.3,1385)"><use href="#bx" class="w"/><text class="t" y="7.5">1</text><text class="m" y="35.5">刘<tspan x="0" dy="18">显</tspan></text></g>
<g id="r11e-2" transform="translate(613.1,1385)"><use href="#bx" class="w"/><text class="t" y="7.5">2</text><text class="m" y="35.5">刘<tspan x="0" dy="18">昱</tspan></text></g>
<g id="liu-ying" transform="translate(580.3,1525)"><use href="#bx" class="y"/><text class="t" y="7.5">1</text><text class="m" y="35.5">刘<tspan x="0" dy="18">婴</tspan></text><text class="t" y="79.5">20</text></g>
<g id="wang-mang"><rect x="444" y="1537" width="68" height="60" rx="3" fill="#fff" stroke="#333" stroke-width="1.4"/><text x="478" y="1549" style="font-size:15px;font-weight:bold;text-anchor:middle;dominant-baseline:central">王莽</text><text x="478" y="1565.5" style="font-size:10.5px;text-anchor:middle;dominant-baseline:central">(前45年-23年)</text><text x="478" y="1578" style="font-size:9.5px;text-anchor:middle;dominant-baseline:central">新朝开国皇帝</text><text x="478" y="1590" style="font-size:9.5px;text-anchor:middle;dominant-baseline:central">9年-23年在位</text></g>

<g id="r12-1" transform="translate(83.6,1525)"><use href="#bx" class="w"/><text class="t" y="7.5">1</text><text class="m" y="35.5">刘<tspan x="0" dy="18">建</tspan></text></g>
<g id="r12-2" transform="translate(116,1525)"><use href="#bx" class="w"/><text class="t" y="7.5">2</text><text class="m" y="35.5">刘<tspan x="0" dy="18">羡</tspan></text></g>
<g id="r12-3" transform="translate(148.4,1525)"><use href="#bx" class="w"/><text class="t" y="7.5">3</text><text class="m" y="35.5">刘<tspan x="0" dy="18">恭</tspan></text></g>
<g id="r12-4" transform="translate(180.8,1525)"><use href="#bx" class="w"/><text class="t" y="7.5">4</text><text class="m" y="35.5">刘<tspan x="0" dy="18">党</tspan></text></g>
<g id="r12-5" transform="translate(213.2,1525)"><use href="#bx" class="c"/><text class="t" y="7.5">5</text><text class="m" y="35.5">刘<tspan x="0" dy="18">炟</tspan></text><text class="t" y="79.5">32</text></g>
<g id="r12-6" transform="translate(245.6,1525)"><use href="#bx" class="w"/><text class="t" y="7.5">6</text><text class="m" y="35.5">刘<tspan x="0" dy="18">衍</tspan></text></g>
<g id="r12-7" transform="translate(278,1525)"><use href="#bx" class="w"/><text class="t" y="7.5">7</text><text class="m" y="35.5">刘<tspan x="0" dy="18">畅</tspan></text></g>
<g id="r12-8" transform="translate(310.4,1525)"><use href="#bx" class="w"/><text class="t" y="7.5">8</text><text class="m" y="35.5">刘<tspan x="0" dy="18">昞</tspan></text></g>
<g id="r12-9" transform="translate(342.8,1525)"><use href="#bx" class="w"/><text class="t" y="7.5">9</text><text class="m" y="35.5">刘<tspan x="0" dy="18">长</tspan></text></g>

<g id="r13-1" transform="translate(113.5,1654)"><use href="#bx" class="w"/><text class="t" y="7.5">1</text><text class="m" y="35.5">刘<tspan x="0" dy="18">伉</tspan></text></g>
<g id="r13-2" transform="translate(145.9,1654)"><use href="#bx" class="w"/><text class="t" y="7.5">2</text><text class="m" y="35.5">刘<tspan x="0" dy="18">全</tspan></text></g>
<g id="r13-3" transform="translate(178.3,1654)"><use href="#bx" class="w"/><text class="t" y="7.5">3</text><text class="m" y="35.5">刘<tspan x="0" dy="18">庆</tspan></text><text class="t" y="79.5">29</text></g>
<g id="r13-4" transform="translate(210.7,1654)"><use href="#bx" class="c"/><text class="t" y="7.5">4</text><text class="m" y="35.5">刘<tspan x="0" dy="18">肇</tspan></text><text class="t" y="79.5">26</text></g>
<g id="r13-5" transform="translate(243.1,1654)"><use href="#bx" class="w"/><text class="t" y="7.5">5</text><text class="m" y="35.5">刘<tspan x="0" dy="18">寿</tspan></text></g>
<g id="r13-6" transform="translate(275.5,1654)"><use href="#bx" class="w"/><text class="t" y="7.5">6</text><text class="m" y="35.5">刘<tspan x="0" dy="18">开</tspan></text></g>
<g id="r13-7" transform="translate(307.9,1654)"><use href="#bx" class="w"/><text class="t" y="7.5">7</text><text class="m" y="35.5">刘<tspan x="0" dy="18">淑</tspan></text></g>
<g id="r13-8" transform="translate(340.3,1654)"><use href="#bx" class="w"/><text class="t" y="7.5">8</text><text class="m3" y="27">刘<tspan x="0" dy="17.5">万</tspan><tspan x="0" dy="17.5">岁</tspan></text></g>

<g id="r14a-1" transform="translate(113.5,1789)"><use href="#bx" class="w"/><text class="t" y="7.5">1</text><text class="m" y="35.5">刘<tspan x="0" dy="18">宠</tspan></text></g>
<g id="r14b-1" transform="translate(165.2,1789)"><use href="#bx" class="c"/><text class="t" y="7.5">1</text><text class="m" y="35.5">刘<tspan x="0" dy="18">祜</tspan></text><text class="t" y="79.5">31</text></g>
<g id="r14b-2" transform="translate(198.8,1789)"><use href="#bx" class="w"/><text class="t" y="7.5">2</text><text class="m3" y="27">刘<tspan x="0" dy="17.5">虎</tspan><tspan x="0" dy="17.5">威</tspan></text></g>
<g id="r14b-3" transform="translate(231.6,1789)"><use href="#bx" class="w"/><text class="t" y="7.5">3</text><text class="m3" y="27">刘<tspan x="0" dy="17.5">常</tspan><tspan x="0" dy="17.5">保</tspan></text></g>
<g id="r14c-1" transform="translate(284,1789)"><use href="#bx" class="w"/><text class="t" y="7.5">1</text><text class="m" y="35.5">刘<tspan x="0" dy="18">胜</tspan></text></g>
<g id="r14c-2" transform="translate(316.8,1789)"><use href="#bx" class="c"/><text class="t" y="7.5">2</text><text class="m" y="35.5">刘<tspan x="0" dy="18">隆</tspan></text><text class="t" y="79.5">1</text></g>
<g id="r14d-1" transform="translate(407,1789)"><use href="#bx" class="w"/><text class="t" y="7.5">1</text><text class="m" y="35.5">刘<tspan x="0" dy="18">政</tspan></text></g>
<g id="r14d-2" transform="translate(439.3,1789)"><use href="#bx" class="w"/><text class="t" y="7.5">2</text><text class="m" y="35.5">刘<tspan x="0" dy="18">翼</tspan></text></g>
<g id="r14d-3" transform="translate(471.3,1789)"><use href="#bx" class="w"/><text class="t" y="7.5">3</text><text class="m" y="35.5">刘<tspan x="0" dy="18">德</tspan></text></g>
<g id="r14d-4" transform="translate(504.1,1789)"><use href="#bx" class="w"/><text class="t" y="7.5">4</text><text class="m" y="35.5">刘<tspan x="0" dy="18">淑</tspan></text></g>
<g id="r14d-16" transform="translate(560.7,1789)"><use href="#bx" class="w"/><text class="t" y="7.5">16</text></g>

<g id="r15a-1" transform="translate(60.2,1917)"><use href="#bx" class="w"/><text class="t" y="7.5">1</text><text class="m" y="35.5">刘<tspan x="0" dy="18">鸿</tspan></text></g>
<g id="r15a-2" transform="translate(93,1917)"><use href="#bx" class="w"/><text class="t" y="7.5">2</text><text class="m" y="35.5">刘<tspan x="0" dy="18">得</tspan></text></g>
<g id="r15a-3" transform="translate(125.8,1917)"><use href="#bx" class="w"/><text class="t" y="7.5">3</text><text class="m3" y="27">刘<tspan x="0" dy="17.5">延</tspan><tspan x="0" dy="17.5">平</tspan></text></g>
<g id="r15b-1" transform="translate(212.3,1917)"><use href="#bx" class="c"/><text class="t" y="7.5">1</text><text class="m" y="35.5">刘<tspan x="0" dy="18">保</tspan></text><text class="t" y="79.5">29</text></g>
<g id="r15c-1" transform="translate(407,1917)"><use href="#bx" class="c"/><text class="t" y="7.5">1</text><text class="m" y="35.5">刘<tspan x="0" dy="18">志</tspan></text><text class="t" y="79.5">35</text></g>
<g id="r15c-2" transform="translate(439.3,1917)"><use href="#bx" class="w"/><text class="t" y="7.5">2</text><text class="m" y="35.5">刘<tspan x="0" dy="18">硕</tspan></text></g>
<g id="r15c-3" transform="translate(471.3,1917)"><use href="#bx" class="w"/><text class="t" y="7.5">3</text><text class="m" y="35.5">刘<tspan x="0" dy="18">悝</tspan></text></g>
<g id="r15d-1" transform="translate(504.1,1917)"><use href="#bx" class="w"/><text class="t" y="7.5">1</text><text class="m" y="35.5">刘<tspan x="0" dy="18">苌</tspan></text></g>

<g id="r16-1" transform="translate(60.2,2039)"><use href="#bx" class="c"/><text class="t" y="7.5">1</text><text class="m" y="35.5">刘<tspan x="0" dy="18">缵</tspan></text><text class="t" y="79.5">8</text></g>
<g id="r16-2" transform="translate(212.3,2039)"><use href="#bx" class="c"/><text class="t" y="7.5">1</text><text class="m" y="35.5">刘<tspan x="0" dy="18">炳</tspan></text><text class="t" y="79.5">2</text></g>
<g id="r16-3" transform="translate(504.1,2042)"><use href="#bx" class="c"/><text class="t" y="7.5">1</text><text class="m" y="35.5">刘<tspan x="0" dy="18">宏</tspan></text><text class="t" y="79.5">32</text></g>

<g id="r17-1" transform="translate(471.3,2167)"><use href="#bx" class="w"/><text class="t" y="7.5">1</text><text class="m" y="35.5">刘<tspan x="0" dy="18">辩</tspan></text><text class="t" y="79.5">14</text></g>
<g id="r17-2" transform="translate(504.1,2167)"><use href="#bx" class="c"/><text class="t" y="7.5">2</text><text class="m" y="35.5">刘<tspan x="0" dy="18">协</tspan></text><text class="t" y="79.5">53</text></g>

<g id="r18-1" transform="translate(407,2304)"><use href="#bx" class="w"/><text class="t" y="7.5">1</text></g>
<g id="r18-2" transform="translate(439.3,2304)"><use href="#bx" class="w"/><text class="t" y="7.5">2</text></g>
<g id="r18-3" transform="translate(471.3,2304)"><use href="#bx" class="w"/><text class="t" y="7.5">3</text><text class="m" y="35.5">刘<tspan x="0" dy="18">冯</tspan></text></g>
<g id="r18-4" transform="translate(504.1,2304)"><use href="#bx" class="w"/><text class="t" y="7.5">4</text><text class="m" y="35.5">刘<tspan x="0" dy="18">熙</tspan></text></g>
<g id="r18-5" transform="translate(536.1,2304)"><use href="#bx" class="w"/><text class="t" y="7.5">5</text><text class="m" y="35.5">刘<tspan x="0" dy="18">懿</tspan></text></g>
<g id="r18-6" transform="translate(568.9,2304)"><use href="#bx" class="w"/><text class="t" y="7.5">6</text><text class="m" y="35.5">刘<tspan x="0" dy="18">貌</tspan></text></g>
<g id="r18-7" transform="translate(601.2,2304)"><use href="#bx" class="w"/><text class="t" y="7.5">7</text><text class="m" y="35.5">刘<tspan x="0" dy="18">敦</tspan></text></g>
</g>

<g id="no-heir">
<g class="nh"><rect x="88.5" y="578" width="43" height="17" rx="2.5"/><text x="110" y="586.5">无后</text></g>
<g class="nh"><rect x="184" y="578" width="43" height="17" rx="2.5"/><text x="205.5" y="586.5">无后</text></g>
<g class="nh"><rect x="507" y="840" width="43" height="17" rx="2.5"/><text x="528.5" y="848.5">无后</text></g>
<g class="nh"><rect x="483.5" y="1474" width="43" height="17.5" rx="2.5"/><text x="505" y="1482.8">无后</text></g>
<g class="nh"><rect x="528.5" y="1474" width="43" height="17.5" rx="2.5"/><text x="550" y="1482.8">无后</text></g>
<g class="nh"><rect x="561.5" y="1613" width="43" height="17" rx="2.5"/><text x="583" y="1621.5">无后</text></g>
<g class="nh"><rect x="295" y="1877" width="43" height="17" rx="2.5"/><text x="316.5" y="1885.5">无后</text></g>
<g class="nh"><rect x="385" y="2006" width="43" height="17" rx="2.5"/><text x="406.5" y="2014.5">无子</text></g>
<g class="nh"><rect x="39.8" y="2127" width="43" height="16.5" rx="2.5"/><text x="61.3" y="2135.3">无后</text></g>
<g class="nh"><rect x="192.6" y="2127" width="43" height="16.5" rx="2.5"/><text x="214" y="2135.3">无后</text></g>
</g>

<g id="watermarks">
<text class="wm" x="274.5" y="338">头条@历史导图</text>
<text class="wm" x="453" y="476">头条@历史导图</text>
<text class="wm" x="214" y="480">头条@历史导图</text>
<text class="wm" x="160" y="612">头条@历史导图</text>
<text class="wm" x="399.5" y="612">头条@历史导图</text>
<text class="wm" x="175" y="742">头条@历史导图</text>
<text class="wm" x="474.5" y="739">头条@历史导图</text>
<text class="wm" x="342" y="864">头条@历史导图</text>
<text class="wm" x="180" y="1100">头条@历史导图</text>
<text class="wm" x="360" y="1100">头条@历史导图</text>
<text class="wm" x="142" y="1226">头条@历史导图</text>
<text class="wm" x="304" y="1227">头条@历史导图</text>
<text class="wm" x="477.5" y="1226">头条@历史导图</text>
<text class="wm" x="80" y="1375">头条@历史导图</text>
<text class="wm" x="219" y="1375">头条@历史导图</text>
<text class="wm" x="436.5" y="1372">头条@历史导图</text>
<text class="wm" x="569.5" y="1371">头条@历史导图</text>
<text class="wm" x="520.5" y="1498">头条@历史导图</text>
<text class="wm" x="218" y="1510">头条@历史导图</text>
<text class="wm" x="223" y="1642">头条@历史导图</text>
<text class="wm" x="454" y="1774">头条@历史导图</text>
<text class="wm" x="251" y="1778">头条@历史导图</text>
<text class="wm" x="152.5" y="1906">头条@历史导图</text>
<text class="wm" x="442.6" y="1905">头条@历史导图</text>
<text class="wm" x="508" y="2288">头条@历史导图</text>
</g>

<g id="summary">
<rect x="15" y="2373" width="340" height="31" rx="3" fill="#fff" stroke="#444" stroke-width="1.2"/>
<text x="185" y="2389" style="font-size:14.5px;text-anchor:middle;dominant-baseline:central;fill:#222">汉朝享国407年/西汉前202年-8年/东汉25年-220年</text>
</g>

<g id="table-left">
<rect class="tl" x="15.2" y="2408" width="291.4" height="659"/>
<path class="tl" d="M32.8,2408V3067M79.9,2408V3067M115.6,2408V3067M175.4,2408V3067M205,2408V3067M248.4,2408V3067"/>
<path class="tl" d="M15.2,2428H306.6M15.2,2450H306.6M15.2,2472.1H306.6M15.2,2494.1H306.6M15.2,2516.1H306.6M15.2,2538.2H306.6M15.2,2560.2H306.6M15.2,2582.2H306.6M15.2,2604.2H306.6M15.2,2626.3H306.6M15.2,2648.3H306.6M15.2,2670.3H306.6M15.2,2692.4H306.6M15.2,2714.4H306.6M15.2,2736.4H306.6M15.2,2758.5H306.6M15.2,2780.5H306.6M15.2,2802.5H306.6M15.2,2824.5H306.6M15.2,2846.6H306.6M15.2,2868.6H306.6M15.2,2890.6H306.6M15.2,2912.7H306.6M15.2,2934.7H306.6M15.2,2956.7H306.6M15.2,2978.8H306.6M15.2,3000.8H306.6M15.2,3022.8H306.6M15.2,3044.8H306.6"/>
<text class="tb" y="2418"><tspan x="97.8">庙号</tspan><tspan x="145.5">谥号</tspan><tspan x="190.2">寿</tspan><tspan x="226.7">生</tspan><tspan x="277.5">卒</tspan></text>
<text class="tb" y="2439"><tspan x="56.4">西汉</tspan></text>
<text class="wm" x="257.5" y="2444">头条@历史导图</text>
<text class="tb" y="2461"><tspan x="24">1</tspan><tspan x="56.4">刘邦</tspan><tspan x="97.8">太祖</tspan><tspan x="145.5">高皇帝</tspan><tspan x="190.2">61</tspan><tspan x="226.7">前256</tspan><tspan x="277.5">前195</tspan></text>
<text class="tb" y="2483.1"><tspan x="24">2</tspan><tspan x="56.4">刘盈</tspan><tspan x="145.5">孝惠皇帝</tspan><tspan x="190.2">23</tspan><tspan x="226.7">前211</tspan><tspan x="277.5">前188</tspan></text>
<text class="tb" y="2505.1"><tspan x="24">3</tspan><tspan x="56.4">刘恭</tspan><tspan x="190.2">12</tspan><tspan x="226.7">前192</tspan><tspan x="277.5">前184</tspan></text>
<text class="tb" y="2527.1"><tspan x="24">4</tspan><tspan x="56.4">刘弘</tspan><tspan x="277.5">前180</tspan></text>
<text class="tb" y="2549.2"><tspan x="24">5</tspan><tspan x="56.4">刘恒</tspan><tspan x="97.8">太宗</tspan><tspan x="145.5">孝文皇帝</tspan><tspan x="190.2">45</tspan><tspan x="226.7">前202</tspan><tspan x="277.5">前157</tspan></text>
<text class="tb" y="2571.2"><tspan x="24">6</tspan><tspan x="56.4">刘启</tspan><tspan x="145.5">孝景皇帝</tspan><tspan x="190.2">46</tspan><tspan x="226.7">前188</tspan><tspan x="277.5">前141</tspan></text>
<text class="tb" y="2593.2"><tspan x="24">7</tspan><tspan x="56.4">刘彻</tspan><tspan x="97.8">世宗</tspan><tspan x="145.5">孝武皇帝</tspan><tspan x="190.2">69</tspan><tspan x="226.7">前156</tspan><tspan x="277.5">前87</tspan></text>
<text class="tb" y="2615.2"><tspan x="24">8</tspan><tspan x="56.4">刘弗陵</tspan><tspan x="145.5">孝昭皇帝</tspan><tspan x="190.2">20</tspan><tspan x="226.7">前94</tspan><tspan x="277.5">前74</tspan></text>
<text class="tb" y="2637.3"><tspan x="24">9</tspan><tspan x="56.4">刘贺</tspan><tspan x="145.5">废帝</tspan><tspan x="277.5">前59</tspan></text>
<text class="tb" y="2659.3"><tspan x="24">10</tspan><tspan x="56.4">刘询</tspan><tspan x="97.8">中宗</tspan><tspan x="145.5">孝宣皇帝</tspan><tspan x="190.2">42</tspan><tspan x="226.7">前91</tspan><tspan x="277.5">前49</tspan></text>
<text class="tb" y="2681.3"><tspan x="24">11</tspan><tspan x="56.4">刘奭</tspan><tspan x="97.8">高宗</tspan><tspan x="145.5">孝元皇帝</tspan><tspan x="190.2">41</tspan><tspan x="226.7">前74</tspan><tspan x="277.5">前33</tspan></text>
<text class="tb" y="2703.4"><tspan x="24">12</tspan><tspan x="56.4">刘骜</tspan><tspan x="97.8">统宗</tspan><tspan x="145.5">孝成皇帝</tspan><tspan x="190.2">44</tspan><tspan x="226.7">前51</tspan><tspan x="277.5">前7</tspan></text>
<text class="tb" y="2725.4"><tspan x="24">13</tspan><tspan x="56.4">刘欣</tspan><tspan x="145.5">汉哀帝</tspan><tspan x="190.2">24</tspan><tspan x="226.7">前25</tspan><tspan x="277.5">前1</tspan></text>
<text class="tb" y="2747.4"><tspan x="24">14</tspan><tspan x="56.4">刘衎</tspan><tspan x="97.8">元宗</tspan><tspan x="145.5">孝平皇帝</tspan><tspan x="190.2">15</tspan><tspan x="226.7">前9</tspan><tspan x="277.5">6</tspan></text>
<text class="tb" y="2769.5"><tspan x="24">15</tspan><tspan x="56.4">刘婴</tspan><tspan x="145.5">孺子</tspan><tspan x="190.2">20</tspan><tspan x="226.7">5</tspan><tspan x="277.5">25</tspan></text>
<text class="tb" y="2791.5"><tspan x="56.4">东汉</tspan></text>
<text class="wm" x="254.5" y="2793">头条@历史导图</text>
<text class="tb" y="2813.5"><tspan x="24">16</tspan><tspan x="56.4">刘秀</tspan><tspan x="97.8">世祖</tspan><tspan x="145.5">光武皇帝</tspan><tspan x="190.2">62</tspan><tspan x="226.7">前5</tspan><tspan x="277.5">57</tspan></text>
<text class="tb" y="2835.5"><tspan x="24">17</tspan><tspan x="56.4">刘庄</tspan><tspan x="97.8">显宗</tspan><tspan x="145.5">孝明皇帝</tspan><tspan x="190.2">47</tspan><tspan x="226.7">28</tspan><tspan x="277.5">75</tspan></text>
<text class="tb" y="2857.6"><tspan x="24">18</tspan><tspan x="56.4">刘炟</tspan><tspan x="97.8">肃宗</tspan><tspan x="145.5">孝章皇帝</tspan><tspan x="190.2">32</tspan><tspan x="226.7">56</tspan><tspan x="277.5">88</tspan></text>
<text class="tb" y="2879.6"><tspan x="24">19</tspan><tspan x="56.4">刘肇</tspan><tspan x="97.8">穆宗</tspan><tspan x="145.5">孝和皇帝</tspan><tspan x="190.2">26</tspan><tspan x="226.7">79</tspan><tspan x="277.5">105</tspan></text>
<text class="tb" y="2901.6"><tspan x="24">20</tspan><tspan x="56.4">刘隆</tspan><tspan x="145.5">汉殇帝</tspan><tspan x="190.2">1</tspan><tspan x="226.7">105</tspan><tspan x="277.5">106</tspan></text>
<text class="tb" y="2923.7"><tspan x="24">21</tspan><tspan x="56.4">刘祜</tspan><tspan x="97.8">恭宗</tspan><tspan x="145.5">汉安帝</tspan><tspan x="190.2">31</tspan><tspan x="226.7">94</tspan><tspan x="277.5">125</tspan></text>
<text class="tb" y="2945.7"><tspan x="24">22</tspan><tspan x="56.4">刘保</tspan><tspan x="97.8">敬宗</tspan><tspan x="145.5">孝顺皇帝</tspan><tspan x="190.2">29</tspan><tspan x="226.7">115</tspan><tspan x="277.5">144</tspan></text>
<text class="tb" y="2967.7"><tspan x="24">23</tspan><tspan x="56.4">刘炳</tspan><tspan x="145.5">孝冲皇帝</tspan><tspan x="190.2">2</tspan><tspan x="226.7">143</tspan><tspan x="277.5">145</tspan></text>
<text class="tb" y="2989.8"><tspan x="24">24</tspan><tspan x="56.4">刘缵</tspan><tspan x="145.5">孝质皇帝</tspan><tspan x="190.2">8</tspan><tspan x="226.7">138</tspan><tspan x="277.5">146</tspan></text>
<text class="tb" y="3011.8"><tspan x="24">25</tspan><tspan x="56.4">刘志</tspan><tspan x="97.8">威宗</tspan><tspan x="145.5">孝恒皇帝</tspan><tspan x="190.2">35</tspan><tspan x="226.7">132</tspan><tspan x="277.5">167</tspan></text>
<text class="tb" y="3033.8"><tspan x="24">26</tspan><tspan x="56.4">刘宏</tspan><tspan x="145.5">孝灵皇帝</tspan><tspan x="190.2">32</tspan><tspan x="226.7">157</tspan><tspan x="277.5">189</tspan></text>
<text class="tb" y="3055.8"><tspan x="24">27</tspan><tspan x="56.4">刘协</tspan><tspan x="145.5">孝献皇帝</tspan><tspan x="190.2">53</tspan><tspan x="226.7">181</tspan><tspan x="277.5">234</tspan></text>
</g>

<g id="table-right">
<rect class="tl" x="315.6" y="2407" width="310.6" height="660"/>
<path class="tl" d="M334,2407V3067M381,2407V3067M494,2407V3067M526.6,2407V3067M571.7,2407V3067"/>
<path class="tl" d="M315.6,2426H626.2M315.6,2444.3H626.2M315.6,2462.6H626.2M315.6,2480.9H626.2M315.6,2499.2H626.2M315.6,2517.6H626.2M315.6,2535.9H626.2M315.6,2554.2H626.2M315.6,2609.1H626.2M315.6,2627.4H626.2M315.6,2645.7H626.2M315.6,2682.4H626.2M315.6,2700.7H626.2M315.6,2737.3H626.2M315.6,2755.6H626.2M315.6,2773.9H626.2M315.6,2792.2H626.2M315.6,2810.5H626.2M315.6,2828.8H626.2M315.6,2847.1H626.2M315.6,2865.4H626.2M315.6,2883.7H626.2M315.6,2902.1H626.2M315.6,2920.4H626.2M315.6,2938.7H626.2M315.6,2957H626.2M315.6,2975.3H626.2M315.6,3011.9H626.2M315.6,3030.2H626.2"/>
<text class="tb" y="2416.5"><tspan x="437.5">年号</tspan><tspan x="510.3">在位</tspan><tspan x="549.2">起</tspan><tspan x="599">止</tspan></text>
<text class="tb" y="2435.2"><tspan x="357.5">西汉</tspan></text>
<text class="wm" x="439.5" y="2436">头条@历史导图</text>
<text class="tb" y="2453.5"><tspan x="324.8">1</tspan><tspan x="357.5">刘邦</tspan><tspan x="510.3">8</tspan><tspan x="549.2">前202</tspan><tspan x="599">前195</tspan></text>
<text class="tb" y="2471.8"><tspan x="324.8">2</tspan><tspan x="357.5">刘盈</tspan><tspan x="510.3">7</tspan><tspan x="549.2">前195</tspan><tspan x="599">前188</tspan></text>
<text class="tb" y="2490.1"><tspan x="324.8">3</tspan><tspan x="357.5">刘恭</tspan><tspan x="510.3">4</tspan><tspan x="549.2">前188</tspan><tspan x="599">前184</tspan></text>
<text class="tb" y="2508.4"><tspan x="324.8">4</tspan><tspan x="357.5">刘弘</tspan><tspan x="510.3">4</tspan><tspan x="549.2">前184</tspan><tspan x="599">前180</tspan></text>
<text class="tb" y="2526.7"><tspan x="324.8">5</tspan><tspan x="357.5">刘恒</tspan><tspan x="510.3">23</tspan><tspan x="549.2">前180</tspan><tspan x="599">前157</tspan></text>
<text class="tb" y="2545"><tspan x="324.8">6</tspan><tspan x="357.5">刘启</tspan><tspan x="510.3">16</tspan><tspan x="549.2">前157</tspan><tspan x="599">前141</tspan></text>
<text class="tb" y="2581.7"><tspan x="324.8">7</tspan><tspan x="357.5">刘彻</tspan><tspan x="510.3">54</tspan><tspan x="549.2">前141</tspan><tspan x="599">前87</tspan></text>
<text class="tn" x="437.5" y="2567.5">建元/元光/元朔/元<tspan x="437.5" dy="14.2">狩/元鼎/元封/太初/</tspan><tspan x="437.5" dy="14.2">征和/后元</tspan></text>
<text class="tb" y="2618.3"><tspan x="324.8">8</tspan><tspan x="357.5">刘弗陵</tspan><tspan x="437.5">始元/元凤/元平</tspan><tspan x="510.3">13</tspan><tspan x="549.2">前87</tspan><tspan x="599">前74</tspan></text>
<text class="tb" y="2636.6"><tspan x="324.8">9</tspan><tspan x="357.5">刘贺</tspan><tspan x="437.5">元平</tspan><tspan x="510.3">27天</tspan><tspan x="549.2">前74</tspan><tspan x="599">前74</tspan></text>
<text class="tb" y="2664.1"><tspan x="324.8">10</tspan><tspan x="357.5">刘询</tspan><tspan x="510.3">26</tspan><tspan x="549.2">前74</tspan><tspan x="599">前48</tspan></text>
<text class="tn" x="437.5" y="2657">本始/地节/元康/神<tspan x="437.5" dy="14.3">爵/五凤/甘露/黄龙</tspan></text>
<text class="tb" y="2691.6"><tspan x="324.8">11</tspan><tspan x="357.5">刘奭</tspan><tspan x="510.3">15</tspan><tspan x="549.2">前48</tspan><tspan x="599">前33</tspan></text>
<text class="tn" x="437.5" y="2691.6">初元/永光/建昭/竟宁</text>
<text class="tb" y="2719"><tspan x="324.8">12</tspan><tspan x="357.5">刘骜</tspan><tspan x="510.3">26</tspan><tspan x="549.2">前33</tspan><tspan x="599">前7</tspan></text>
<text class="tn" x="437.5" y="2711.8">建始/河平/阳朔/鸿<tspan x="437.5" dy="14.4">嘉/永始/元延/绥和</tspan></text>
<text class="tb" y="2746.5"><tspan x="324.8">13</tspan><tspan x="357.5">刘欣</tspan><tspan x="437.5">建平/元寿</tspan><tspan x="510.3">6</tspan><tspan x="549.2">前7</tspan><tspan x="599">前1</tspan></text>
<text class="tb" y="2764.8"><tspan x="324.8">14</tspan><tspan x="357.5">刘衎</tspan><tspan x="437.5">元始</tspan><tspan x="510.3">7</tspan><tspan x="549.2">前1</tspan><tspan x="599">6</tspan></text>
<text class="tb" y="2783.1"><tspan x="324.8">15</tspan><tspan x="357.5">刘婴</tspan><tspan x="549.2">6</tspan><tspan x="599">8</tspan></text>
<text class="tb" y="2801.4"><tspan x="357.5">东汉</tspan></text>
<text class="wm" x="438.5" y="2802">头条@历史导图</text>
<text class="tb" y="2819.7"><tspan x="324.8">16</tspan><tspan x="357.5">刘秀</tspan><tspan x="437.5">建武/建武中元</tspan><tspan x="510.3">32</tspan><tspan x="549.2">25</tspan><tspan x="599">57</tspan></text>
<text class="tb" y="2838"><tspan x="324.8">17</tspan><tspan x="357.5">刘庄</tspan><tspan x="437.5">永平</tspan><tspan x="510.3">18</tspan><tspan x="549.2">57</tspan><tspan x="599">75</tspan></text>
<text class="tb" y="2856.3"><tspan x="324.8">18</tspan><tspan x="357.5">刘炟</tspan><tspan x="437.5">建初/元和/章和</tspan><tspan x="510.3">13</tspan><tspan x="549.2">75</tspan><tspan x="599">88</tspan></text>
<text class="tb" y="2874.6"><tspan x="324.8">19</tspan><tspan x="357.5">刘肇</tspan><tspan x="437.5">永元/元兴</tspan><tspan x="510.3">18</tspan><tspan x="549.2">88</tspan><tspan x="599">106</tspan></text>
<text class="tb" y="2892.9"><tspan x="324.8">20</tspan><tspan x="357.5">刘隆</tspan><tspan x="549.2">105</tspan><tspan x="599">106</tspan></text>
<text class="tt" x="510.3" y="2892.9">221天</text>
<text class="tb" y="2911.2"><tspan x="324.8">21</tspan><tspan x="357.5">刘祜</tspan><tspan x="510.3">19</tspan><tspan x="549.2">106</tspan><tspan x="599">125</tspan></text>
<text class="tt" x="437.5" y="2911.2">永初/元初/永宁/建光/延光</text>
<text class="tb" y="2929.6"><tspan x="324.8">22</tspan><tspan x="357.5">刘保</tspan><tspan x="510.3">19</tspan><tspan x="549.2">125</tspan><tspan x="599">144</tspan></text>
<text class="tt" x="437.5" y="2929.6">永建/阳嘉/永和/汉安/建康</text>
<text class="tb" y="2947.9"><tspan x="324.8">23</tspan><tspan x="357.5">刘炳</tspan><tspan x="437.5">永嘉</tspan><tspan x="510.3">1</tspan><tspan x="549.2">144</tspan><tspan x="599">145</tspan></text>
<text class="tb" y="2966.2"><tspan x="324.8">24</tspan><tspan x="357.5">刘缵</tspan><tspan x="437.5">本初</tspan><tspan x="510.3">1</tspan><tspan x="549.2">145</tspan><tspan x="599">146</tspan></text>
<text class="tb" y="2993.6"><tspan x="324.8">25</tspan><tspan x="357.5">刘志</tspan><tspan x="510.3">22</tspan><tspan x="549.2">146</tspan><tspan x="599">168</tspan></text>
<text class="tn" x="437.5" y="2986.4">建和/和平/元嘉/永<tspan x="437.5" dy="14.4">兴/永寿/延熹/永康</tspan></text>
<text class="tb" y="3021.1"><tspan x="324.8">26</tspan><tspan x="357.5">刘宏</tspan><tspan x="437.5">建宁/熹平/中平</tspan><tspan x="510.3">21</tspan><tspan x="549.2">168</tspan><tspan x="599">189</tspan></text>
<text class="tb" y="3048.6"><tspan x="324.8">27</tspan><tspan x="357.5">刘协</tspan><tspan x="510.3">31</tspan><tspan x="549.2">189</tspan><tspan x="599">220</tspan></text>
<text class="tn" x="437.5" y="3041.4">中平/初平/兴平/建<tspan x="437.5" dy="14.4">安/延康</tspan></text>
</g>

<g id="footer">
<path d="M213,3090L404,3087L417,3090L410,3094L425,3097L413,3101L428,3106L413,3110L421,3115L402,3121L216,3121L209,3112L212,3100Z" fill="#c8232c"/>
<text x="299" y="3104" style="font-size:23px;font-weight:bold;fill:#fff;text-anchor:middle;dominant-baseline:central">头条号:历史导图</text>
<text x="568.5" y="3112" style="font-size:16px;fill:#333;text-anchor:middle;dominant-baseline:central">头条 @历史导图</text>
</g>
</svg>
